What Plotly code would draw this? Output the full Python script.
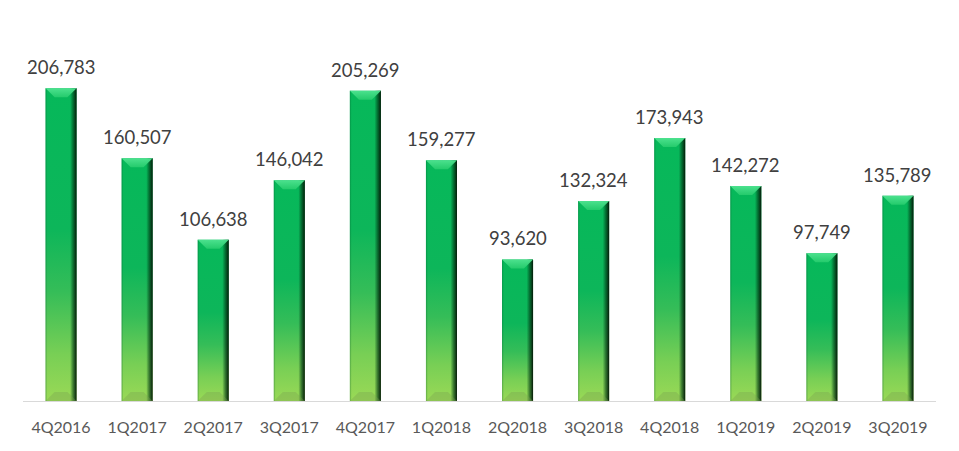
import plotly.graph_objects as go

categories = ["4Q2016", "1Q2017", "2Q2017", "3Q2017", "4Q2017", "1Q2018",
              "2Q2018", "3Q2018", "4Q2018", "1Q2019", "2Q2019", "3Q2019"]
values = [206783, 160507, 106638, 146042, 205269, 159277,
          93620, 132324, 173943, 142272, 97749, 135789]
labels = [f"{v:,}" for v in values]

Y_MAX = 250000
PLOT_H = 378          # plot height in px
HW = 0.204            # half bar width (category units)
U = Y_MAX / PLOT_H    # data units per pixel
BEVEL = 9 * U
EDGE = 0.085          # right shaded strip width
LEDGE = 0.025

fig = go.Figure()

for i, v in enumerate(values):
    x0, x1 = i - HW, i + HW
    # main body with vertical gradient
    fig.add_trace(go.Scatter(
        x=[x0, x1, x1, x0, x0], y=[0, 0, v, v, 0],
        mode="lines", line=dict(width=0), fill="toself",
        fillgradient=dict(type="vertical",
                          colorscale=[[0, "#9ad956"], [0.15, "#78cf55"], [0.35, "#35bd58"],
                                      [0.55, "#0db65a"], [1, "#06b85a"]]),
        hoverinfo="skip", showlegend=False))
    # left subtle darker edge
    fig.add_trace(go.Scatter(
        x=[x0, x0 + LEDGE, x0 + LEDGE, x0, x0], y=[0, 0, v, v, 0],
        mode="lines", line=dict(width=0), fill="toself",
        fillgradient=dict(type="horizontal",
                          colorscale=[[0, "rgba(0,90,40,0.35)"], [1, "rgba(0,90,40,0)"]]),
        hoverinfo="skip", showlegend=False))
    # right dark edge
    fig.add_trace(go.Scatter(
        x=[x1 - EDGE, x1, x1, x1 - EDGE, x1 - EDGE], y=[0, 0, v, v, 0],
        mode="lines", line=dict(width=0), fill="toself",
        fillgradient=dict(type="horizontal",
                          colorscale=[[0, "rgba(0,60,25,0)"], [0.45, "rgba(0,55,20,0.55)"],
                                      [1, "rgba(5,25,8,1)"]]),
        hoverinfo="skip", showlegend=False))
    # top bevel
    fig.add_trace(go.Scatter(
        x=[x0, x1, x1 - 0.12, x0 + 0.12, x0], y=[v, v, v - BEVEL, v - BEVEL, v],
        mode="lines", line=dict(width=0), fill="toself",
        fillgradient=dict(type="vertical",
                          colorscale=[[0, "rgba(40,205,110,0.9)"], [1, "rgba(80,228,145,0.95)"]]),
        hoverinfo="skip", showlegend=False))
    # bottom bevel
    fig.add_trace(go.Scatter(
        x=[x0, x1, x1 - 0.12, x0 + 0.12, x0], y=[0, 0, BEVEL, BEVEL, 0],
        mode="lines", line=dict(width=0), fill="toself",
        fillcolor="rgba(120,160,80,0.35)",
        hoverinfo="skip", showlegend=False))

# value labels
for i, (v, t) in enumerate(zip(values, labels)):
    fig.add_annotation(x=i, y=v, text=t, showarrow=False, yanchor="bottom",
                       yshift=8, font=dict(family="Lato", size=18.5, color="#404040"))

fig.update_layout(
    width=959, height=451,
    margin=dict(l=23, r=23, t=23, b=50),
    paper_bgcolor="white", plot_bgcolor="white",
    font=dict(family="Lato", color="#595959"),
    xaxis=dict(range=[-0.5, len(values) - 0.5], tickmode="array",
               tickvals=list(range(len(values))), ticktext=categories,
               showgrid=False, zeroline=False, showline=True,
               linecolor="#d9d9d9", linewidth=1, ticks="",
               tickfont=dict(family="Lato", size=16, color="#595959"),
               ticklabelstandoff=12, fixedrange=True),
    yaxis=dict(range=[0, Y_MAX], visible=False, showgrid=False, zeroline=False,
               fixedrange=True),
)

fig.write_html("out.html")
